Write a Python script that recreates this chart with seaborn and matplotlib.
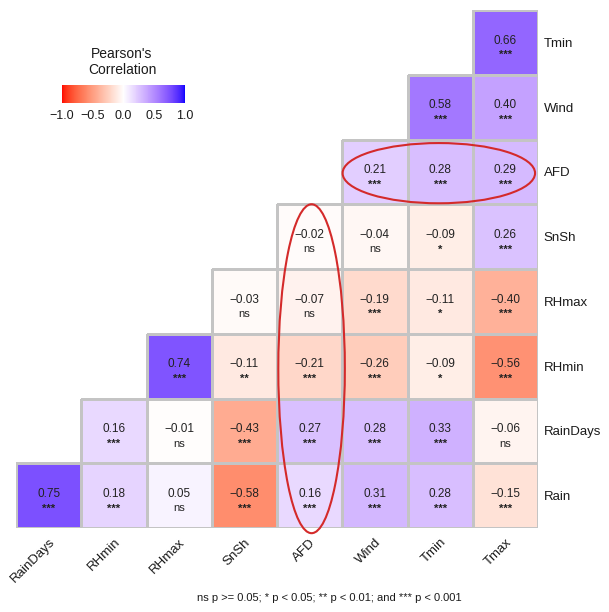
import numpy as np
import pandas as pd
import matplotlib
matplotlib.use("Agg")
import matplotlib.pyplot as plt
from matplotlib.colors import ListedColormap, to_rgba
from matplotlib.patches import Ellipse
import seaborn as sns

# Variables: columns (left to right) and rows (top to bottom)
col_vars = ["RainDays", "RHmin", "RHmax", "SnSh", "AFD", "Wind", "Tmin", "Tmax"]
row_vars = ["Tmin", "Wind", "AFD", "SnSh", "RHmax", "RHmin", "RainDays", "Rain"]

# Correlation coefficients per row, aligned to the right-most columns
r_Tmin = [0.66]
r_Wind = [0.58, 0.40]
r_AFD = [0.21, 0.28, 0.29]
r_SnSh = [-0.02, -0.04, -0.09, 0.26]
r_RHmax = [-0.03, -0.07, -0.19, -0.11, -0.40]
r_RHmin = [0.74, -0.11, -0.21, -0.26, -0.09, -0.56]
r_RainDays = [0.16, -0.01, -0.43, 0.27, 0.28, 0.33, -0.06]
r_Rain = [0.75, 0.18, 0.05, -0.58, 0.16, 0.31, 0.28, -0.15]

# Significance codes per row
s_Tmin = ["***"]
s_Wind = ["***", "***"]
s_AFD = ["***", "***", "***"]
s_SnSh = ["ns", "ns", "*", "***"]
s_RHmax = ["ns", "ns", "***", "*", "***"]
s_RHmin = ["***", "**", "***", "***", "*", "***"]
s_RainDays = ["***", "ns", "***", "***", "***", "***", "ns"]
s_Rain = ["***", "***", "ns", "***", "***", "***", "***", "***"]

r_rows = [r_Tmin, r_Wind, r_AFD, r_SnSh, r_RHmax, r_RHmin, r_RainDays, r_Rain]
s_rows = [s_Tmin, s_Wind, s_AFD, s_SnSh, s_RHmax, s_RHmin, s_RainDays, s_Rain]

n = len(col_vars)
mat = np.full((len(row_vars), n), np.nan)
sig = np.full((len(row_vars), n), "", dtype=object)
for i, (rv, sv) in enumerate(zip(r_rows, s_rows)):
    mat[i, n - len(rv):] = rv
    sig[i, n - len(sv):] = sv
corr = pd.DataFrame(mat, index=row_vars, columns=col_vars)


# Red - white - blue diverging palette interpolated in CIELAB
def _srgb_to_lab(rgb):
    rgb = np.asarray(rgb, float)
    lin = np.where(rgb <= 0.04045, rgb / 12.92, ((rgb + 0.055) / 1.055) ** 2.4)
    M = np.array([[0.4124564, 0.3575761, 0.1804375],
                  [0.2126729, 0.7151522, 0.0721750],
                  [0.0193339, 0.1191920, 0.9503041]])
    xyz = M @ lin / np.array([0.95047, 1.0, 1.08883])
    f = np.where(xyz > 216 / 24389, np.cbrt(xyz), (24389 / 27 * xyz + 16) / 116)
    return np.array([116 * f[1] - 16, 500 * (f[0] - f[1]), 200 * (f[1] - f[2])])


def _lab_to_srgb(lab):
    L, a, b = lab
    fy = (L + 16) / 116
    fx = fy + a / 500
    fz = fy - b / 200
    f = np.array([fx, fy, fz])
    xyz = np.where(f ** 3 > 216 / 24389, f ** 3, (116 * f - 16) / (24389 / 27))
    xyz = xyz * np.array([0.95047, 1.0, 1.08883])
    Minv = np.array([[3.2404542, -1.5371385, -0.4985314],
                     [-0.9692660, 1.8760108, 0.0415560],
                     [0.0556434, -0.2040259, 1.0572252]])
    lin = np.clip(Minv @ xyz, 0, 1)
    rgb = np.where(lin <= 0.0031308, 12.92 * lin, 1.055 * lin ** (1 / 2.4) - 0.055)
    return np.clip(rgb, 0, 1)


lab_lo = _srgb_to_lab([1, 0, 0])
lab_mid = _srgb_to_lab([1, 1, 1])
lab_hi = _srgb_to_lab([0, 0, 1])
colors = []
for v in np.linspace(-1, 1, 511):
    if v < 0:
        lab = lab_lo + (lab_mid - lab_lo) * (v + 1)
    else:
        lab = lab_mid + (lab_hi - lab_mid) * v
    colors.append(_lab_to_srgb(lab))
cmap = ListedColormap(colors)

sns.set_theme(style="white")
plt.rcParams["font.family"] = ["Liberation Sans", "DejaVu Sans"]
plt.rcParams["axes.unicode_minus"] = True

fig = plt.figure(figsize=(6.09, 6.12), dpi=100)
ax = fig.add_axes([16 / 609, 1 - 528 / 612, 522 / 609, 518 / 612])
cax = fig.add_axes([62 / 609, 1 - 103 / 612, 123 / 609, 18 / 612])

sns.heatmap(corr, mask=corr.isna(), cmap=cmap, vmin=-1, vmax=1, center=0,
            linewidths=1.0, linecolor="#C4C4C4", square=False,
            cbar_ax=cax,
            cbar_kws={"orientation": "horizontal",
                      "ticks": [-1, -0.5, 0, 0.5, 1]},
            ax=ax)

# Outline only the filled cells
mesh = ax.collections[0]
edge = np.array([to_rgba("#C4C4C4") if not np.isnan(v) else (0, 0, 0, 0)
                 for v in mat.ravel()])
mesh.set_edgecolor(edge)

# Cell labels: coefficient and significance code
for i in range(len(row_vars)):
    for j in range(n):
        v = mat[i, j]
        if np.isnan(v):
            continue
        txt = f"{v:.2f}".replace("-", "\u2212")
        ax.text(j + 0.5, i + 0.5 + 0.02, txt, ha="center", va="baseline",
                fontsize=8.5, color="#222222")
        ax.text(j + 0.5, i + 0.5 + 0.245, sig[i, j], ha="center",
                va="baseline", fontsize=8, color="#222222",
                fontweight="bold" if "*" in sig[i, j] else "normal")

# Axis labels
ax.yaxis.tick_right()
ax.set_yticklabels(row_vars, rotation=0, fontsize=9.5, color="#1a1a1a")
ax.set_xticklabels(col_vars, rotation=45, ha="right",
                   rotation_mode="anchor", fontsize=9.5, color="#1a1a1a")
ax.tick_params(axis="both", length=0, pad=4)
ax.tick_params(axis="x", pad=6)
ax.set_xlabel("")
ax.set_ylabel("")

# Highlighted groups
ax.add_patch(Ellipse((6.48, 2.52), 2.95, 0.93, fill=False,
                     edgecolor="#D42A2A", lw=1.5, clip_on=False, zorder=5))
ax.add_patch(Ellipse((4.53, 5.54), 1.02, 5.08, fill=False,
                     edgecolor="#D42A2A", lw=1.5, clip_on=False, zorder=5))

# Colour bar styling
cbar = mesh.colorbar
cbar.outline.set_visible(False)
cax.tick_params(axis="x", direction="in", colors="white", length=4,
                width=0.8, top=True, bottom=True, labelbottom=True, pad=5)
cax.set_xticklabels(["\u22121.0", "\u22120.5", "0.0", "0.5", "1.0"],
                    fontsize=9, color="#1a1a1a")
fig.text(122 / 609, 1 - 62 / 612, "Pearson's\nCorrelation", ha="center",
         va="center", fontsize=10, color="#1a1a1a", linespacing=1.15)

# Significance legend
fig.text(462 / 609, 1 - 598 / 612,
         "ns p >= 0.05; * p < 0.05; ** p < 0.01; and *** p < 0.001",
         ha="right", va="center", fontsize=8, color="#1a1a1a")

fig.savefig("out.png", dpi=100)
